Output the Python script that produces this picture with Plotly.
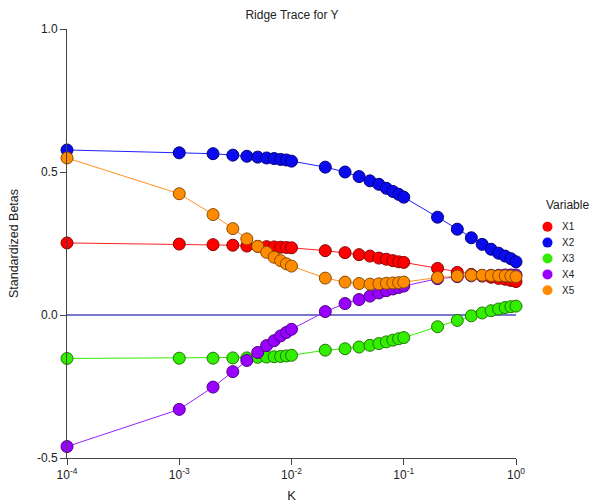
import plotly.graph_objects as go

K = [0.0001, 0.001, 0.002, 0.003, 0.004, 0.005, 0.006, 0.007, 0.008, 0.009,
     0.01, 0.02, 0.03, 0.04, 0.05, 0.06, 0.07, 0.08, 0.09,
     0.1, 0.2, 0.3, 0.4, 0.5, 0.6, 0.7, 0.8, 0.9, 1.0]

X1 = [0.252, 0.248, 0.246, 0.244, 0.241, 0.240, 0.239, 0.238, 0.237, 0.236,
      0.235, 0.225, 0.218, 0.211, 0.206, 0.199, 0.195, 0.190, 0.186,
      0.184, 0.163, 0.149, 0.142, 0.136, 0.132, 0.128, 0.125, 0.121, 0.117]
X2 = [0.577, 0.567, 0.564, 0.559, 0.555, 0.552, 0.549, 0.547, 0.544, 0.542,
      0.538, 0.517, 0.500, 0.484, 0.469, 0.457, 0.443, 0.432, 0.422,
      0.412, 0.342, 0.300, 0.270, 0.247, 0.230, 0.216, 0.206, 0.197, 0.186]
X3 = [-0.152, -0.151, -0.151, -0.150, -0.150, -0.148, -0.147, -0.146, -0.145, -0.143,
      -0.141, -0.123, -0.118, -0.112, -0.106, -0.100, -0.094, -0.088, -0.083,
      -0.079, -0.041, -0.019, -0.003, 0.007, 0.015, 0.021, 0.026, 0.029, 0.031]
X4 = [-0.460, -0.330, -0.252, -0.198, -0.159, -0.131, -0.107, -0.090, -0.073, -0.061,
      -0.050, 0.012, 0.040, 0.054, 0.066, 0.077, 0.085, 0.091, 0.096,
      0.101, 0.127, 0.134, 0.137, 0.138, 0.139, 0.139, 0.140, 0.140, 0.140]
X5 = [0.549, 0.424, 0.351, 0.302, 0.266, 0.240, 0.219, 0.202, 0.190, 0.179,
      0.171, 0.129, 0.115, 0.110, 0.108, 0.109, 0.111, 0.112, 0.113,
      0.115, 0.131, 0.136, 0.139, 0.139, 0.138, 0.137, 0.137, 0.136, 0.134]

names = ["X1", "X2", "X3", "X4", "X5"]
series = [X1, X2, X3, X4, X5]
fill_colors = ["#ff0000", "#0a0aef", "#33ee00", "#9900ff", "#ff8c00"]
line_colors = ["#ff2020", "#2020ff", "#33ee00", "#9922ff", "#ff9020"]
edge_colors = ["#8a0000", "#00007a", "#1a7a00", "#4a0080", "#8a4a00"]

xtick_vals = [1e-4, 1e-3, 1e-2, 1e-1, 1]
xtick_text = ["10<sup>-4</sup>", "10<sup>-3</sup>", "10<sup>-2</sup>",
              "10<sup>-1</sup>", "10<sup>0</sup>"]
ytick_vals = [-0.5, 0.0, 0.5, 1.0]
ytick_text = ["-0.5", "0.0", "0.5", "1.0"]

W, H = 592, 503
L, R, T, B = 67, 76, 29, 45
PW, PH = W - L - R, H - T - B


def px_x(p):
    return (p - L) / PW


def px_y(p):
    return (H - B - p) / PH


fig = go.Figure()
for name, vals, fc, lc, ec in zip(names, series, fill_colors, line_colors, edge_colors):
    fig.add_trace(go.Scatter(
        x=K, y=vals, name=name, mode="lines+markers",
        line=dict(color=lc, width=1),
        marker=dict(size=12, color=fc, line=dict(color=ec, width=1)),
        cliponaxis=False, showlegend=False,
    ))

font = "Liberation Sans, Arial, sans-serif"
txt = "#222222"

# hand-built legend (marker-only keys, like the reference)
annotations = [dict(text="Variable", xref="paper", yref="paper",
                    x=px_x(567), y=px_y(205), xanchor="center", yanchor="middle",
                    showarrow=False, font=dict(size=12, color=txt))]
shapes = []
for i, (name, fc) in enumerate(zip(names, fill_colors)):
    yy = px_y(226.7 + 15.9 * i)
    shapes.append(dict(type="circle", xref="paper", yref="paper",
                       xsizemode="pixel", ysizemode="pixel",
                       xanchor=px_x(547.5), yanchor=yy,
                       x0=-5, x1=5, y0=-5, y1=5,
                       fillcolor=fc, line=dict(width=0)))
    annotations.append(dict(text=name, xref="paper", yref="paper",
                            x=px_x(560), y=yy, xanchor="left", yanchor="middle",
                            showarrow=False, font=dict(size=10, color=txt)))

fig.update_layout(
    width=W, height=H,
    margin=dict(l=L, r=R, t=T, b=B, pad=0, autoexpand=False),
    paper_bgcolor="white", plot_bgcolor="white",
    font=dict(family=font, size=12, color=txt),
    title=dict(text="Ridge Trace for Y", x=292 / W, xanchor="center",
               y=1 - 15 / H, yanchor="middle", font=dict(size=12, color=txt)),
    showlegend=False,
    annotations=annotations,
    shapes=shapes,
    xaxis=dict(
        type="log", range=[-4, 0], automargin=False,
        tickvals=xtick_vals, ticktext=xtick_text,
        ticks="outside", ticklen=6, tickcolor="#444", tickwidth=1,
        showline=True, linecolor="#444", linewidth=1,
        showgrid=False, zeroline=False,
        tickfont=dict(size=12),
        title=dict(text="K", font=dict(size=13)),
    ),
    yaxis=dict(
        range=[-0.5, 1.0], automargin=False,
        tickvals=ytick_vals, ticktext=ytick_text,
        ticks="outside", ticklen=6, tickcolor="#444", tickwidth=1,
        showline=True, linecolor="#444", linewidth=1,
        showgrid=False,
        zeroline=True, zerolinecolor="#7878c8", zerolinewidth=2,
        tickfont=dict(size=12),
        title=dict(text="Standardized Betas", font=dict(size=12.5)),
    ),
)

fig.write_html("out.html",
               config={"displayModeBar": False},
               post_script="document.body.style.margin='0px';document.body.style.overflow='hidden';")
